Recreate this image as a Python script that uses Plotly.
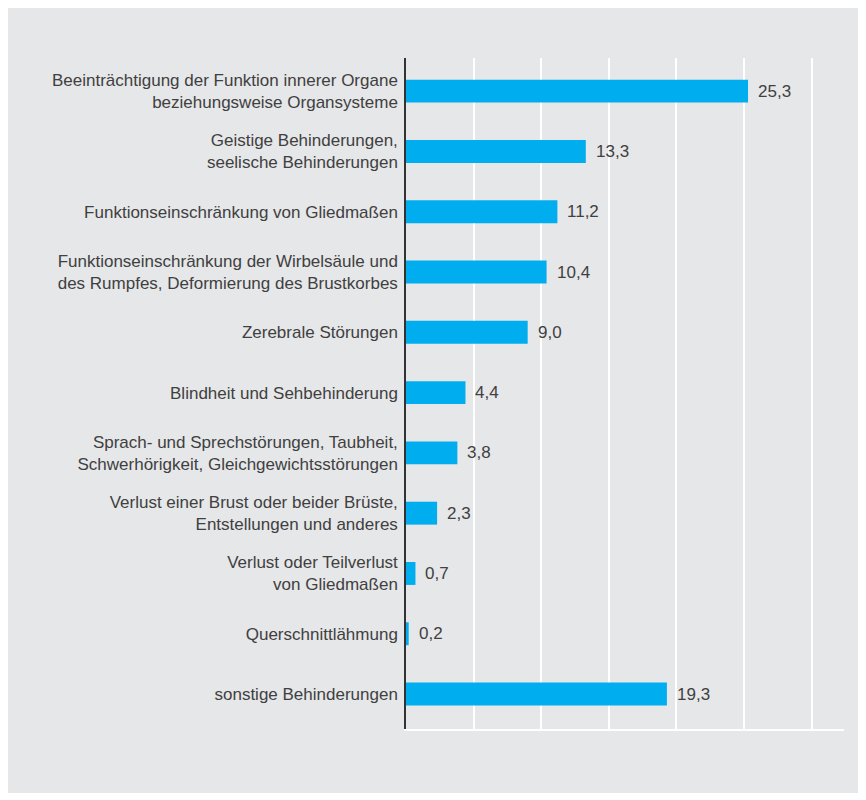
import plotly.graph_objects as go

# Kategorien (von oben nach unten) und Anteile in Prozent
categories = [
    "Beeinträchtigung der Funktion innerer Organe<br>beziehungsweise Organsysteme",
    "Geistige Behinderungen,<br>seelische Behinderungen",
    "Funktionseinschränkung von Gliedmaßen",
    "Funktionseinschränkung der Wirbelsäule und<br>des Rumpfes, Deformierung des Brustkorbes",
    "Zerebrale Störungen",
    "Blindheit und Sehbehinderung",
    "Sprach- und Sprechstörungen, Taubheit,<br>Schwerhörigkeit, Gleichgewichtsstörungen",
    "Verlust einer Brust oder beider Brüste,<br>Entstellungen und anderes",
    "Verlust oder Teilverlust<br>von Gliedmaßen",
    "Querschnittlähmung",
    "sonstige Behinderungen",
]
values = [25.3, 13.3, 11.2, 10.4, 9.0, 4.4, 3.8, 2.3, 0.7, 0.2, 19.3]
labels = [f"{v:.1f}".replace(".", ",") for v in values]

grey = "#e6e7e9"
blue = "#00aeef"
txt = "#404040"

fig = go.Figure()
fig.add_trace(go.Bar(
    x=values, y=categories, orientation="h",
    marker=dict(color=blue, line=dict(width=0)),
    width=0.38, hoverinfo="skip",
))

# Werte rechts neben den Balken
for v, c, lab in zip(values, categories, labels):
    fig.add_annotation(x=v, y=c, text=lab, showarrow=False,
                       xanchor="left", xshift=8,
                       font=dict(size=17, color=txt))

fig.update_layout(
    width=858, height=785,
    margin=dict(l=398, r=22, t=50, b=64),
    paper_bgcolor=grey, plot_bgcolor=grey,
    font=dict(family="Liberation Sans, Arial, sans-serif", size=17, color=txt),
    showlegend=False,
)
fig.update_xaxes(range=[0, 32.4], tickvals=[0, 5, 10, 15, 20, 25, 30],
                 showticklabels=False, showgrid=True, gridcolor="white",
                 gridwidth=1.5, zeroline=False,
                 showline=True, linecolor="white", linewidth=2)
fig.update_yaxes(autorange=False, range=[10.58, -0.55], showgrid=False,
                 zeroline=False, showline=True, linecolor="#333333",
                 linewidth=1.5, ticks="", ticklabelstandoff=3)

fig.write_html("out.html")
